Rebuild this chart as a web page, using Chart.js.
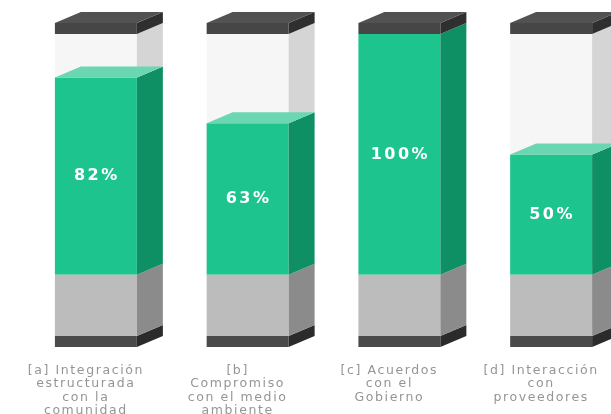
<!DOCTYPE html>
<html>
<head>
<meta charset="utf-8">
<script src="https://cdn.jsdelivr.net/npm/chart.js@4.4.0/dist/chart.umd.min.js"></script>
<style>
html, body { margin: 0; padding: 0; background: #fff; overflow: hidden; }
#wrap { width: 647px; height: 414px; }
</style>
</head>
<body>
<div id="wrap"><canvas id="barras"></canvas></div>
<script>
// datos
var categorias = [
    ['[a] Integración', 'estructurada', 'con la', 'comunidad'],
    ['[b]', 'Compromiso', 'con el medio', 'ambiente'],
    ['[c] Acuerdos', 'con el', 'Gobierno'],
    ['[d] Interacción', 'con', 'proveedores']
]
var porcentajes = [82, 63, 100, 50]

// tramos decorativos de cada columna (en unidades del eje)
var ALTO_BASE = 25.4
var ALTO_TAPA = 4.6
var tapaInferior = categorias.map(function(){ return ALTO_TAPA })
var baseGris = categorias.map(function(){ return ALTO_BASE })
var vacio = porcentajes.map(function(v){ return 100 - v })
var tapaSuperior = categorias.map(function(){ return ALTO_TAPA })

var DX = 26, DY = -11

var cubo3d = {
    id: 'cubo3d',
    beforeDraw: function(chart) {
        chart.ctx.letterSpacing = '1.6px'
    },
    afterDatasetsDraw: function(chart) {
        var ctx = chart.ctx
        ctx.save()
        var techos = []
        chart.data.datasets.forEach(function(ds, i) {
            var meta = chart.getDatasetMeta(i)
            meta.data.forEach(function(bar, j) {
                var p = bar.getProps(['x', 'y', 'base', 'width'], true)
                var l = p.x - p.width / 2
                var r = p.x + p.width / 2
                var t = Math.min(p.y, p.base)
                var b = Math.max(p.y, p.base)
                if (b - t < 0.5) return
                ctx.fillStyle = ds.lado
                ctx.beginPath()
                ctx.moveTo(r, t)
                ctx.lineTo(r + DX, t + DY)
                ctx.lineTo(r + DX, b + DY)
                ctx.lineTo(r, b)
                ctx.closePath()
                ctx.fill()
                if (ds.techo && !(ds.id == 'verde' && vacio[j] <= 0)) {
                    techos.push({ l: l, r: r, t: t, color: ds.techo })
                }
            })
        })
        techos.forEach(function(f) {
            ctx.fillStyle = f.color
            ctx.beginPath()
            ctx.moveTo(f.l, f.t)
            ctx.lineTo(f.l + DX, f.t + DY)
            ctx.lineTo(f.r + DX, f.t + DY)
            ctx.lineTo(f.r, f.t)
            ctx.closePath()
            ctx.fill()
        })
        // etiquetas de porcentaje
        var metaVerde = chart.getDatasetMeta(2)
        ctx.letterSpacing = '2.5px'
        ctx.font = 'bold 16px "DejaVu Sans", sans-serif'
        ctx.fillStyle = '#ffffff'
        ctx.textAlign = 'center'
        ctx.textBaseline = 'middle'
        metaVerde.data.forEach(function(bar, j) {
            var p = bar.getProps(['x', 'y', 'base'], true)
            ctx.fillText(porcentajes[j] + '%', p.x + 1, (p.y + p.base) / 2)
        })
        ctx.restore()
    }
}

const dt = {
    labels: categorias,
    datasets: [
        { id: 'tapaInf', data: tapaInferior, backgroundColor: '#4a4a4a', lado: '#2b2b2b' },
        { id: 'base', data: baseGris, backgroundColor: '#bcbcbc', lado: '#8b8b8b' },
        { id: 'verde', data: porcentajes, backgroundColor: '#1dc48d', lado: '#0f9064', techo: '#6ad6b2' },
        { id: 'vacio', data: vacio, backgroundColor: '#f6f6f6', lado: '#d5d5d5' },
        { id: 'tapaSup', data: tapaSuperior, backgroundColor: '#464646', lado: '#2f2f2f', techo: '#525252' }
    ]
}

const config_barras = {
    type: 'bar',
    data: dt,
    options: {
        responsive: true,
        maintainAspectRatio: false,
        animation: false,
        layout: { padding: { top: 10, left: 20, right: 20, bottom: 0 } },
        datasets: {
            bar: {
                barPercentage: 1,
                categoryPercentage: 0.54,
                borderWidth: 0,
                borderSkipped: false
            }
        },
        plugins: {
            legend: { display: false },
            tooltip: { enabled: false }
        },
        scales: {
            x: {
                stacked: true,
                grid: { display: false, drawTicks: false },
                border: { display: false },
                afterFit: function(s) { s.height = 67 },
                ticks: {
                    padding: 17,
                    labelOffset: -10,
                    maxRotation: 0,
                    autoSkip: false,
                    color: '#959595',
                    font: { family: '"DejaVu Sans", sans-serif', size: 12.5, weight: 'normal', lineHeight: 1.07 }
                }
            },
            y: {
                stacked: true,
                display: false,
                min: 0,
                max: 140
            }
        }
    },
    plugins: [cubo3d]
}

const graficoBarras = new Chart(
    document.getElementById('barras'),
    config_barras
)
</script>
</body>
</html>
